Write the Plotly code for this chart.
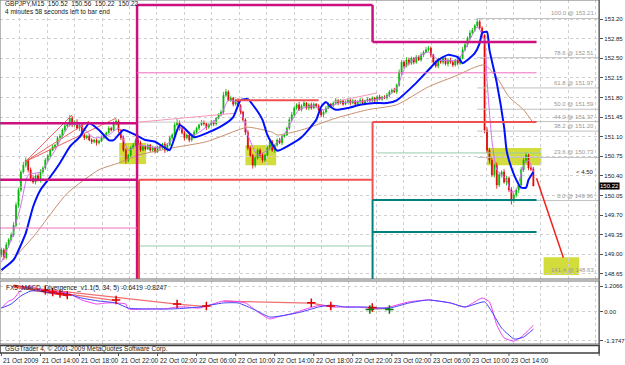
import plotly.graph_objects as go

# ---------------- data ----------------
x_labels = ["21 Oct 2009", "21 Oct 14:00", "21 Oct 18:00", "21 Oct 22:00", "22 Oct 02:00",
            "22 Oct 06:00", "22 Oct 10:00", "22 Oct 14:00", "22 Oct 18:00", "22 Oct 22:00",
            "23 Oct 02:00", "23 Oct 06:00", "23 Oct 10:00", "23 Oct 14:00"]
x_label_bars = [0, 16, 32, 48, 64, 80, 96, 112, 128, 144, 160, 176, 192, 208]

price_ticks = [153.20, 152.85, 152.50, 152.15, 151.80, 151.45, 151.10, 150.75,
               150.40, 150.05, 149.70, 149.35, 149.00, 148.65]
macd_ticks = [1.2066, 0.0, -1.3747]
macd_tick_text = ["1.2066", "0.00", "-1.3747"]

closes = [
    149.08, 148.94, 149.17, 149.26, 149.35, 149.52, 149.88, 150.15, 150.47, 150.59,
    150.68, 150.51, 150.36, 150.29, 150.40, 150.33, 150.47, 150.54, 150.68, 150.76,
    150.86, 150.92, 150.95, 151.08, 151.11, 151.22, 151.29, 151.31, 151.43, 151.31,
    151.36, 151.25, 151.31, 151.13, 151.08, 151.11, 151.04, 151.01, 151.04, 150.99,
    151.02, 151.08, 151.13, 151.17, 151.25, 151.22, 151.33, 151.38, 151.22, 151.08,
    150.86, 150.68, 150.77, 150.90, 150.95, 151.04, 150.99, 150.86, 150.92, 150.88,
    150.95, 150.86, 150.90, 150.83, 150.92, 150.90, 150.97, 150.86, 150.95, 151.08,
    151.13, 151.31, 151.36, 151.25, 151.17, 151.08, 151.13, 151.04, 151.09, 151.18,
    151.25, 151.31, 151.36, 151.33, 151.27, 151.31, 151.36, 151.33, 151.43, 151.49,
    151.54, 151.84, 151.90, 151.75, 151.79, 151.68, 151.75, 151.65, 151.54, 151.40,
    151.18, 150.90, 150.77, 150.59, 150.72, 150.86, 150.77, 150.68, 150.77, 150.90,
    151.01, 150.86, 150.95, 151.04, 150.99, 151.11, 151.13, 151.25, 151.40, 151.49,
    151.61, 151.67, 151.58, 151.65, 151.70, 151.61, 151.67, 151.61, 151.68, 151.65,
    151.58, 151.49, 151.54, 151.61, 151.68, 151.65, 151.70, 151.75, 151.70, 151.74,
    151.68, 151.72, 151.75, 151.70, 151.74, 151.68, 151.72, 151.75, 151.70, 151.74,
    151.77, 151.74, 151.79, 151.75, 151.81, 151.77, 151.81, 151.79, 151.84, 151.90,
    151.93, 151.90, 152.02, 152.25, 152.43, 152.36, 152.47, 152.41, 152.50, 152.43,
    152.52, 152.47, 152.56, 152.61, 152.65, 152.68, 152.56, 152.43, 152.36, 152.47,
    152.43, 152.50, 152.40, 152.47, 152.43, 152.38, 152.47, 152.41, 152.50, 152.65,
    152.74, 152.86, 152.95, 153.00, 153.08, 153.15, 153.04, 152.91, 151.22, 150.86,
    150.68, 150.42, 150.59, 150.24, 150.42, 150.47, 150.29, 150.36, 150.15, 149.97,
    150.06, 150.15, 150.24, 150.51, 150.68, 150.77, 150.54, 150.52, 150.22]
first_open = 149.00

# wick sizes in pips (0.01)
upper_wick = [
    4, 3, 5, 3, 4, 6, 5, 4, 3, 6, 5, 3, 4, 5, 3, 4, 5, 3, 4, 3,
    3, 4, 2, 3, 4, 3, 5, 3, 6, 4, 3, 5, 3, 4, 2, 3, 4, 3, 2, 3,
    3, 4, 3, 2, 4, 3, 5, 4, 3, 2, 4, 3, 2, 3, 4, 3, 5, 4, 3, 2,
    3, 2, 4, 3, 2, 3, 2, 4, 3, 4, 3, 5, 6, 3, 2, 4, 3, 2, 3, 4,
    3, 2, 4, 3, 2, 3, 4, 3, 2, 3, 4, 6, 5, 3, 4, 2, 3, 4, 3, 2,
    3, 4, 3, 2, 4, 3, 3, 4, 2, 3, 4, 3, 2, 3, 4, 3, 2, 3, 4, 5,
    4, 3, 5, 3, 4, 2, 3, 4, 3, 2, 3, 2, 3, 4, 3, 2, 3, 4, 2, 3,
    2, 3, 4, 2, 3, 2, 3, 4, 3, 2, 3, 2, 3, 2, 3, 4, 2, 3, 4, 3,
    3, 4, 3, 5, 4, 3, 5, 4, 3, 2, 4, 3, 4, 3, 5, 4, 3, 2, 3, 4,
    3, 4, 2, 3, 4, 3, 2, 3, 4, 5, 4, 3, 5, 4, 3, 6, 4, 3, 2, 5,
    4, 6, 3, 5, 4, 3, 5, 4, 3, 5, 4, 3, 4, 5, 6, 5, 3, 4, 4]
lower_wick = [
    5, 4, 3, 5, 3, 4, 3, 5, 4, 3, 4, 5, 6, 3, 4, 3, 5, 4, 3, 4,
    3, 2, 4, 3, 2, 4, 3, 2, 3, 4, 3, 2, 5, 3, 4, 3, 2, 4, 3, 5,
    3, 2, 3, 4, 2, 3, 2, 3, 5, 4, 3, 6, 4, 3, 2, 3, 4, 3, 2, 3,
    2, 3, 4, 3, 2, 4, 3, 5, 3, 2, 3, 2, 3, 4, 3, 5, 3, 4, 3, 2,
    3, 4, 2, 3, 5, 3, 2, 4, 3, 2, 3, 4, 3, 2, 3, 4, 3, 2, 4, 3,
    5, 4, 3, 6, 4, 3, 5, 4, 3, 2, 4, 3, 5, 3, 2, 4, 3, 2, 3, 2,
    3, 4, 2, 3, 2, 3, 4, 3, 2, 4, 3, 4, 5, 3, 2, 3, 2, 3, 4, 2,
    3, 2, 3, 4, 2, 3, 2, 3, 2, 3, 2, 3, 2, 4, 3, 2, 3, 2, 3, 4,
    3, 2, 4, 3, 5, 3, 2, 4, 3, 4, 3, 2, 3, 4, 2, 3, 5, 4, 3, 4,
    3, 4, 3, 5, 3, 4, 3, 4, 3, 2, 3, 4, 3, 2, 3, 4, 3, 5, 6, 5,
    6, 4, 5, 7, 4, 5, 3, 6, 4, 8, 5, 4, 6, 3, 4, 5, 4, 3, 0]

# moving averages (vertices: bar index, price)
blue_bar = [0, 5, 10, 13, 16, 20, 24, 28, 32, 36, 40, 44, 46, 50, 55, 59, 63, 67, 69, 73,
            75, 79, 85, 91, 95, 98, 101, 103, 107, 109, 113, 118, 123, 129, 131, 133, 135, 137, 142, 147,
            153, 158, 162, 170, 175, 179, 183, 187, 189, 191, 194, 196, 197, 199, 200, 203, 206, 207, 208, 211,
            213, 215, 216, 218]
blue_val = [148.72, 148.90, 149.38, 149.85, 150.15, 150.38, 150.63, 150.92, 151.09, 151.34,
            151.22, 151.04, 151.04, 151.22, 151.13, 151.04, 151.01, 150.90, 150.86, 151.31,
            151.25, 151.09, 151.18, 151.31, 151.45, 151.75, 151.77, 151.67, 151.40, 151.13,
            150.85, 150.95, 151.09, 151.40, 151.63, 151.72, 151.63, 151.58, 151.61, 151.67,
            151.70, 151.70, 151.75, 152.06, 152.29, 152.47, 152.56, 152.52, 152.41, 152.47,
            152.59, 152.77, 152.95, 152.97, 152.65, 152.06, 151.27, 150.86, 150.68, 150.33,
            150.19, 150.19, 150.33, 150.47]
violet_bar = [0, 4, 8, 11, 16, 22, 28, 32, 38, 44, 48, 52, 56, 65, 70, 73, 79, 85, 90, 93,
              97, 101, 105, 109, 115, 122, 128, 132, 138, 150, 158, 162, 166, 175, 179, 187, 191, 195, 198, 199,
              201, 203, 207, 209, 211, 214, 216, 218]
violet_val = [148.86, 149.26, 149.88, 150.42, 150.47, 150.86, 151.31, 151.31, 151.08, 151.13,
              151.25, 150.86, 150.95, 150.90, 151.04, 151.25, 151.13, 151.31, 151.49, 151.75,
              151.70, 151.13, 150.77, 150.86, 151.08, 151.58, 151.65, 151.58, 151.70, 151.74,
              151.81, 151.97, 152.38, 152.61, 152.47, 152.47, 152.74, 153.06, 152.83, 152.11,
              151.04, 150.51, 150.33, 150.11, 150.15, 150.59, 150.68, 150.47]
brown_bar = [0, 13, 27, 40, 48, 56, 70, 84, 97, 101, 111, 113, 123, 137, 150, 162, 175, 187,
             194, 198, 203, 208, 214, 218]
brown_val = [148.69, 149.31, 150.09, 150.51, 150.63, 150.77, 150.90, 151.01, 151.22, 151.27,
             151.18, 151.13, 151.22, 151.43, 151.58, 151.67, 151.99, 152.20, 152.34, 152.38,
             152.16, 151.81, 151.58, 151.34]

# horizontal level segments: (start bar, end bar, price)
magenta_levels = [(-1, 55.6, 151.34), (-1, 55.6, 150.33), (55.6, 152.1, 153.45), (152.1, 219.3, 152.79)]
magenta_verticals = [(55.6, 153.45, 148.40), (152.1, 153.45, 152.79)]
pink_levels = [(-1, 55.6, 149.47), (55.6, 219.3, 152.24)]
red_levels = [(56.4, 152.1, 150.33), (152.1, 219.3, 151.36), (96, 130, 151.75)]
red_verticals = [(56.4, 150.33, 148.40), (152.1, 151.36, 149.97)]
teal_levels = [(152.1, 219.3, 149.97), (152.1, 219.3, 149.40)]
teal_verticals = [(152.1, 149.97, 148.40)]
lightgreen_levels = [(56.4, 152.1, 149.15), (154, 221, 150.81)]
grey_levels = [(-1, 55.6, 150.20), (55.6, 152.1, 151.36)]

# trend lines: (bar0, price0, bar1, price1)
red_trends = [(10, 150.66, 29, 151.49), (10, 150.66, 47, 151.43), (10, 150.66, 36, 151.38),
              (219.3, 150.36, 230.3, 148.94)]
pink_trends = [(56.4, 151.36, 96, 151.52), (136, 151.72, 154, 151.88)]

# fibonacci levels
fib_text = ["100.0 @ 153.21", "78.6 @ 152.51", "61.8 @ 151.97", "50.0 @ 151.59",
            "44.0 @ 151.37", "38.2 @ 151.20", "23.6 @ 150.73", "0.0 @ 149.96", "141.4 @ 148.63"]
fib_price = [153.21, 152.51, 151.97, 151.59, 151.37, 151.20, 150.73, 149.96, 148.63]
fib_start_bar = 195

# highlight zones: (bar0, bar1, price_low, price_high)
zones = [(48.3, 59.3, 150.61, 150.99), (100, 112.6, 150.59, 150.95),
         (199, 221.3, 150.59, 150.90), (222.2, 236.8, 148.63, 148.95)]

# MACD panel
macd_blue_bar = [0, 4, 8, 12, 16, 20, 27, 33, 40, 47, 52, 58, 63, 70, 76, 81, 91, 97, 104, 110,
                 117, 123, 130, 135, 141, 149, 159, 167, 175, 184, 190, 198, 201, 205, 210, 211, 214, 218]
macd_blue_val = [0.17, 0.36, 0.74, 0.97, 0.97, 0.88, 0.83, 0.64, 0.50, 0.41, 0.17, 0.13, 0.13, 0.13,
                 0.17, 0.22, 0.41, 0.41, 0.08, -0.25, -0.15, -0.01, 0.22, 0.31, 0.22, 0.22, 0.17,
                 0.41, 0.55, 0.41, 0.22, 0.46, -0.01, -0.77, -1.28, -1.28, -1.19, -0.82]
macd_mag_bar = [0, 3, 5, 7, 9, 12, 15, 17, 20, 27, 33, 39, 43, 47, 51, 52, 61, 67, 72, 76, 81,
                91, 100, 105, 110, 113, 120, 126, 131, 135, 140, 146, 154, 159, 167, 175, 184, 190,
                197, 200, 203, 206, 210, 213, 218]
macd_mag_val = [0.17, 0.50, 0.60, 0.88, 1.11, 1.21, 1.07, 1.02, 0.97, 0.88, 0.55, 0.36, 0.41, 0.41,
                0.36, 0.13, 0.13, 0.13, 0.22, 0.22, 0.17, 0.50, 0.41, -0.01, -0.34, -0.25, -0.06,
                0.17, 0.31, 0.22, 0.22, 0.22, 0.13, 0.22, 0.46, 0.55, 0.41, 0.22, 0.64, 0.46,
                -0.62, -1.23, -1.38, -1.19, -0.64]
macd_red_lines = [(5, 1.21, 27, 0.78), (5, 1.18, 47, 0.52), (12, 1.12, 72, 0.36), (72, 0.36, 84, 0.24),
                  (91, 0.50, 127, 0.40), (127, 0.40, 135, 0.24)]
macd_green_lines = [(151, 0.14, 159, 0.14)]
red_cross_bar = [18, 21, 24, 27, 47, 72, 84, 127, 135, 152]
red_cross_val = [1.00, 0.92, 0.85, 0.78, 0.55, 0.36, 0.27, 0.42, 0.27, 0.20]
green_cross_bar = [151, 159]
green_cross_val = [0.10, 0.10]

title_lines = ["GBPJPY,M15  150.52  150.56  150.22  150.22", "4 minutes 58 seconds left to bar end"]
macd_title = "FX5_MACD_Divergence_v1.1(5, 34, 5) -0.6419 -0.8247"
footer = "GSGTrader 4, \u00a9 2001-2009 MetaQuotes Software Corp."
last_price = 150.22
spread_text = "< 4.50"
spread_pos = (234.8, 150.47)

# ---------------- layout geometry (pixels) ----------------
W, H = 625, 365
PLOT_R = 603
MAIN_TOP, MAIN_BOT = 0, 279
IND_TOP, IND_BOT = 281, 344
X0_PX, PITCH = 1.4, 2.456


def px2bar(px):
    return (px - X0_PX) / PITCH


def py(px):
    return 1 - px / H


xr = [px2bar(0), px2bar(PLOT_R)]
main_range = [153.20 - (MAIN_BOT - 19) / 56.04, 153.20 + 19 / 56.04]
ind_zero = 311.7
ind_scale = 21.3
ind_range = [-(IND_BOT - ind_zero) / ind_scale, (ind_zero - IND_TOP) / ind_scale]

grid_px = [20 + 27.6 * k for k in range(22)]
grid_bars = [px2bar(p) for p in grid_px if p < PLOT_R]

# candles
opens = [first_open] + closes[:-1]
highs = [max(o, c) + w / 100 for o, c, w in zip(opens, closes, upper_wick)]
lows = [min(o, c) - w / 100 for o, c, w in zip(opens, closes, lower_wick)]
bars = list(range(len(closes)))

fig = go.Figure()


def seg_trace(segs, color, width, axis=("x", "y"), dash=None):
    xs, ys = [], []
    for s in segs:
        xs += [s[0], s[1], None]
        ys += [s[2], s[2], None]
    return go.Scatter(x=xs, y=ys, mode="lines", line=dict(color=color, width=width, dash=dash),
                      xaxis=axis[0], yaxis=axis[1], hoverinfo="skip")


def vert_trace(segs, color, width):
    xs, ys = [], []
    for s in segs:
        xs += [s[0], s[0], None]
        ys += [s[1], s[2], None]
    return go.Scatter(x=xs, y=ys, mode="lines", line=dict(color=color, width=width), hoverinfo="skip")


def line_trace(segs, color, width, axis=("x", "y")):
    xs, ys = [], []
    for s in segs:
        xs += [s[0], s[2], None]
        ys += [s[1], s[3], None]
    return go.Scatter(x=xs, y=ys, mode="lines", line=dict(color=color, width=width),
                      xaxis=axis[0], yaxis=axis[1], hoverinfo="skip")


# thin lines behind candles
fig.add_trace(seg_trace(grey_levels, "#C8C8C8", 1))
fig.add_trace(seg_trace(lightgreen_levels, "#99CCAA", 1))
fig.add_trace(line_trace(pink_trends, "#F49AB8", 1))
fig.add_trace(line_trace(red_trends[:3], "#F06060", 1))

# fib lines
fig.add_trace(seg_trace([(fib_start_bar, xr[1], p) for p in fib_price[:-1]], "#C0C0C0", 1))

fig.add_trace(go.Candlestick(
    x=bars, open=opens, high=highs, low=lows, close=closes,
    increasing=dict(line=dict(color="#00B400", width=0.8), fillcolor="#00B400"),
    decreasing=dict(line=dict(color="#E00000", width=0.8), fillcolor="#E00000"),
    whiskerwidth=0, hoverinfo="skip"))

fig.add_trace(go.Scatter(x=brown_bar, y=brown_val, mode="lines",
                         line=dict(color="#C89070", width=1, shape="spline", smoothing=0.6)))
fig.add_trace(go.Scatter(x=violet_bar, y=violet_val, mode="lines",
                         line=dict(color="#D070F0", width=1, shape="spline", smoothing=0.5)))
fig.add_trace(go.Scatter(x=blue_bar, y=blue_val, mode="lines",
                         line=dict(color="#0010FF", width=2, shape="spline", smoothing=0.5)))

# level lines on top
fig.add_trace(seg_trace(magenta_levels, "#CC1080", 2.5))
fig.add_trace(vert_trace(magenta_verticals, "#CC1080", 2.5))
fig.add_trace(seg_trace(pink_levels, "#F070C0", 1))
fig.add_trace(seg_trace(red_levels, "#F05050", 2))
fig.add_trace(vert_trace(red_verticals, "#F05050", 2))
fig.add_trace(seg_trace(teal_levels, "#008080", 2))
fig.add_trace(vert_trace(teal_verticals, "#008080", 2))
fig.add_trace(line_trace(red_trends[3:], "#F02020", 1.5))

# MACD panel
fig.add_trace(line_trace(macd_red_lines[:1], "#F03030", 3, axis=("x2", "y2")))
fig.add_trace(line_trace(macd_red_lines[1:], "#F07070", 1.2, axis=("x2", "y2")))
fig.add_trace(line_trace(macd_green_lines, "#30A030", 1.2, axis=("x2", "y2")))
fig.add_trace(go.Scatter(x=macd_mag_bar, y=macd_mag_val, mode="lines", xaxis="x2", yaxis="y2",
                         line=dict(color="#F040F0", width=1, shape="spline", smoothing=0.5)))
fig.add_trace(go.Scatter(x=macd_blue_bar, y=macd_blue_val, mode="lines", xaxis="x2", yaxis="y2",
                         line=dict(color="#4040FF", width=1, shape="spline", smoothing=0.5)))
fig.add_trace(go.Scatter(x=red_cross_bar, y=red_cross_val, mode="markers", xaxis="x2", yaxis="y2",
                         marker=dict(symbol="cross-thin", size=6, line=dict(color="#E00000", width=1.5))))
fig.add_trace(go.Scatter(x=green_cross_bar, y=green_cross_val, mode="markers", xaxis="x2", yaxis="y2",
                         marker=dict(symbol="cross-thin", size=6, line=dict(color="#008000", width=1.5))))

shapes = []
for b0, b1, p0, p1 in zones:
    shapes.append(dict(type="rect", xref="x", yref="y", x0=b0, x1=b1, y0=p0, y1=p1,
                       fillcolor="#D2DC3A", line=dict(width=0), layer="below"))
# panel frames
shapes.append(dict(type="rect", xref="paper", yref="paper", x0=0, x1=PLOT_R / W,
                   y0=py(MAIN_BOT), y1=py(0), line=dict(color="#707070", width=1)))
shapes.append(dict(type="rect", xref="paper", yref="paper", x0=0, x1=PLOT_R / W,
                   y0=py(IND_BOT), y1=py(IND_TOP), line=dict(color="#707070", width=1)))
shapes.append(dict(type="rect", xref="paper", yref="paper", x0=0, x1=PLOT_R / W,
                   y0=py(353), y1=py(345.5), fillcolor="#FFFFFF", line=dict(color="#404040", width=1.5)))
shapes.append(dict(type="line", xref="paper", yref="paper", x0=PLOT_R / W, x1=PLOT_R / W,
                   y0=py(356), y1=1, line=dict(color="#505050", width=1)))
for b in x_label_bars:
    shapes.append(dict(type="line", xref="x", yref="paper", x0=b, x1=b,
                       y0=py(356), y1=py(353), line=dict(color="#505050", width=1)))

FONT = "Liberation Sans"
ann = []
for b, t in zip(x_label_bars, x_labels):
    ann.append(dict(x=b, xref="x", y=py(360), yref="paper", text=t, showarrow=False,
                    xanchor="left", yanchor="middle", font=dict(size=6.5, color="#202020", family=FONT)))
for k, t in enumerate(title_lines):
    ann.append(dict(x=3 / W, xref="paper", y=py(4 + 8 * k), yref="paper", text=t, showarrow=False,
                    xanchor="left", yanchor="middle", font=dict(size=6.5, color="#202020", family=FONT)))
ann.append(dict(x=4 / W, xref="paper", y=py(288), yref="paper", text=macd_title, showarrow=False,
                xanchor="left", yanchor="middle", font=dict(size=6.5, color="#202020", family=FONT)))
ann.append(dict(x=3 / W, xref="paper", y=py(349.3), yref="paper", text=footer, showarrow=False,
                xanchor="left", yanchor="middle", font=dict(size=6.5, color="#202020", family=FONT)))
for t, p in zip(fib_text, fib_price):
    ann.append(dict(x=xr[1] - 1.2, xref="x", y=p, yref="y", text=t, showarrow=False,
                    xanchor="right", yanchor="bottom", font=dict(size=6, color="#989898", family=FONT)))
ann.append(dict(x=spread_pos[0], xref="x", y=spread_pos[1], yref="y", text=spread_text, showarrow=False,
                xanchor="left", yanchor="middle", font=dict(size=6, color="#202020", family=FONT)))
ann.append(dict(x=PLOT_R / W, xref="paper", y=last_price, yref="y", text=f"{last_price:.2f}",
                showarrow=False, xanchor="left", yanchor="middle", bgcolor="#000000",
                font=dict(size=6, color="#FFFFFF", family=FONT), borderpad=0))

axis_common = dict(showline=False, zeroline=False)
fig.update_layout(
    width=W, height=H, margin=dict(l=0, r=0, t=0, b=0),
    paper_bgcolor="white", plot_bgcolor="white", showlegend=False,
    boxgap=0.45,
    xaxis=dict(domain=[0, PLOT_R / W], range=xr, anchor="y", tickvals=grid_bars, showticklabels=False,
               showgrid=True, gridcolor="#D0D0D0", griddash="dot", gridwidth=1, ticks="",
               rangeslider=dict(visible=False), **axis_common),
    xaxis2=dict(domain=[0, PLOT_R / W], range=xr, anchor="y2", matches="x", tickvals=grid_bars,
                showticklabels=False, showgrid=True, gridcolor="#D0D0D0", griddash="dot", ticks="",
                **axis_common),
    yaxis=dict(domain=[py(MAIN_BOT), py(MAIN_TOP)], range=main_range, side="right",
               tickvals=price_ticks, ticktext=[f"{v:.2f}" for v in price_ticks],
               showgrid=True, gridcolor="#D0D0D0", griddash="dot", ticks="outside", ticklen=3,
               tickcolor="#505050", tickfont=dict(size=6, color="#202020", family=FONT), **axis_common),
    yaxis2=dict(domain=[py(IND_BOT), py(IND_TOP)], range=ind_range, side="right",
                tickvals=macd_ticks, ticktext=macd_tick_text, showgrid=True, gridcolor="#D0D0D0",
                griddash="dot", ticks="outside", ticklen=3, tickcolor="#505050",
                tickfont=dict(size=6, color="#202020", family=FONT), **axis_common),
    shapes=shapes, annotations=ann,
)

fig.write_html("out.html")
